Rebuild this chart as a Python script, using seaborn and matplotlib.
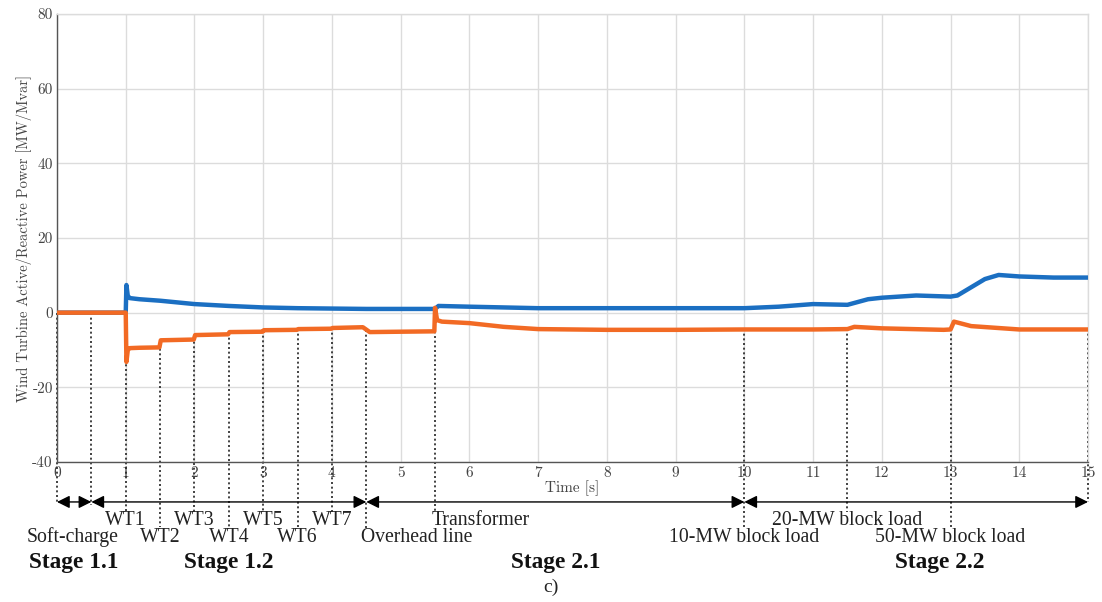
import numpy as np
import pandas as pd
import matplotlib
matplotlib.use("Agg")
import matplotlib.pyplot as plt
import seaborn as sns

# ---- data ----
t_active = [0, 1.0, 1.01, 1.03, 1.06, 1.2, 1.5, 2.0, 2.5, 3.0, 3.5, 4.0, 4.5, 5.0, 5.5, 5.55,
            6.0, 7.0, 8.0, 9.0, 10.0, 10.5, 11.0, 11.5, 11.6, 11.8, 12.0, 12.5, 13.0, 13.1,
            13.3, 13.5, 13.7, 14.0, 14.5, 15.0]
p_active = [0, 0, 7.4, 4.5, 3.9, 3.6, 3.2, 2.3, 1.8, 1.4, 1.2, 1.1, 1.0, 1.0, 1.0, 1.8,
            1.6, 1.2, 1.2, 1.2, 1.2, 1.6, 2.3, 2.1, 2.6, 3.6, 4.0, 4.6, 4.3, 4.6,
            6.8, 9.0, 10.1, 9.7, 9.4, 9.4]

t_reactive = [0, 1.0, 1.01, 1.03, 1.06, 1.2, 1.49, 1.51, 1.99, 2.01, 2.49, 2.51, 2.99, 3.01,
              3.49, 3.51, 3.99, 4.01, 4.45, 4.55, 5.0, 5.49, 5.5, 5.53, 5.6, 6.0, 6.5, 7.0,
              8.0, 9.0, 10.0, 11.0, 11.5, 11.6, 12.0, 12.9, 13.0, 13.05, 13.3, 14.0, 15.0]
q_reactive = [0, 0, -13.2, -10.0, -9.5, -9.4, -9.3, -7.4, -7.2, -6.0, -5.8, -5.2, -5.1, -4.7,
              -4.6, -4.4, -4.3, -4.1, -3.9, -5.2, -5.1, -5.0, 1.3, -2.0, -2.4, -2.8, -3.8, -4.4,
              -4.6, -4.6, -4.5, -4.5, -4.4, -3.8, -4.2, -4.6, -4.5, -2.4, -3.6, -4.5, -4.5]

event_times = [0, 0.5, 1, 1.5, 2, 2.5, 3, 3.5, 4, 4.5, 5.5, 10, 11.5, 13, 15]
event_bottoms = [-50.7, -51.5, -53.4, -57.4, -53.4, -57.4, -53.4, -57.4, -53.4, -58.0,
                 -53.4, -57.4, -53.4, -57.4, -50.7]

event_labels = ["Soft-charge", "WT1", "WT2", "WT3", "WT4", "WT5", "WT6", "WT7",
                "Overhead line", "Transformer", "10-MW block load",
                "20-MW block load", "50-MW block load"]
event_label_x = [0.22, 1, 1.5, 2, 2.5, 3, 3.5, 4, 4.42, 5.45, 10, 11.5, 13]
event_label_y = [-60.2, -55.6, -60.2, -55.6, -60.2, -55.6, -60.2, -55.6, -60.2,
                 -55.6, -60.2, -55.6, -60.2]
event_label_ha = ["center"] * 8 + ["left", "left", "center", "center", "center"]

stage_names = ["Stage 1.1", "Stage 1.2", "Stage 2.1", "Stage 2.2"]
stage_bounds = [(0, 0.5), (0.5, 4.5), (4.5, 10), (10, 15)]
stage_label_x = [0.25, 2.5, 7.25, 12.85]

x_ticks = list(range(0, 16))
y_ticks = [-40, -20, 0, 20, 40, 60, 80]

blue = "#1b6fc2"
orange = "#f26a24"

df = pd.concat([
    pd.DataFrame({"t": t_active, "v": p_active, "s": "P"}),
    pd.DataFrame({"t": t_reactive, "v": q_reactive, "s": "Q"}),
], ignore_index=True)

sns.set_theme(style="whitegrid")
plt.rcParams["axes.unicode_minus"] = False

fig = plt.figure(figsize=(11.02, 6.02), dpi=100)
ax = fig.add_axes([57 / 1102, 1 - 462 / 602, (1088 - 57) / 1102, (462 - 14) / 602])

sns.lineplot(data=df, x="t", y="v", hue="s", palette={"P": blue, "Q": orange},
             sort=False, estimator=None, legend=False, linewidth=3.2, ax=ax, zorder=3)

ax.set_xlim(0, 15)
ax.set_ylim(-40, 80)
ax.set_xticks(x_ticks)
ax.set_yticks(y_ticks)
ax.set_xticklabels([str(v) for v in x_ticks])
ax.set_yticklabels([str(v) for v in y_ticks])
ax.grid(True, color="#dcdcdc", linewidth=1.0)
ax.set_facecolor("white")
for side in ["top", "right"]:
    ax.spines[side].set_color("#dcdcdc")
    ax.spines[side].set_linewidth(1.0)
for side in ["left", "bottom"]:
    ax.spines[side].set_color("#555555")
    ax.spines[side].set_linewidth(1.0)
ax.tick_params(axis="both", direction="in", length=8, width=1.0, color="#555555",
               labelsize=11, labelcolor="#444444", pad=3)
for lbl in ax.get_xticklabels() + ax.get_yticklabels():
    lbl.set_family("cmr10")
ax.set_xlabel("Time [s]", family="cmr10", fontsize=11, color="#444444", labelpad=0)
ax.set_ylabel("Wind Turbine Active/Reactive Power [MW/Mvar]", family="cmr10",
              fontsize=10.5, color="#444444", labelpad=0)

# dotted event lines from the reactive curve down below the axis
for t, yb in zip(event_times, event_bottoms):
    ytop = float(np.interp(t, t_reactive, q_reactive))
    ax.plot([t, t], [ytop, yb], color="#222222", linestyle=(0, (1.2, 1.6)),
            linewidth=1.2, clip_on=False, zorder=2)

# stage arrows
for (a, b) in stage_bounds:
    ax.annotate("", xy=(b, -50.7), xytext=(a, -50.7), xycoords="data",
                annotation_clip=False,
                arrowprops=dict(arrowstyle="<|-|>", color="black", lw=1.0,
                                mutation_scale=19, shrinkA=0, shrinkB=0))

for txt, x, y, ha in zip(event_labels, event_label_x, event_label_y, event_label_ha):
    ax.text(x, y, txt, ha=ha, va="center", fontsize=14.2, family="Liberation Serif",
            color="#222222", clip_on=False)

for txt, x in zip(stage_names, stage_label_x):
    ax.text(x, -66.8, txt, ha="center", va="center", fontsize=16.8, fontweight="bold",
            family="Liberation Serif", color="#111111", clip_on=False)

fig.text(551 / 1102, 1 - 587 / 602, "c)", ha="center", va="center", fontsize=14,
         family="Liberation Serif", color="#222222")

fig.savefig("out.png", dpi=100)
